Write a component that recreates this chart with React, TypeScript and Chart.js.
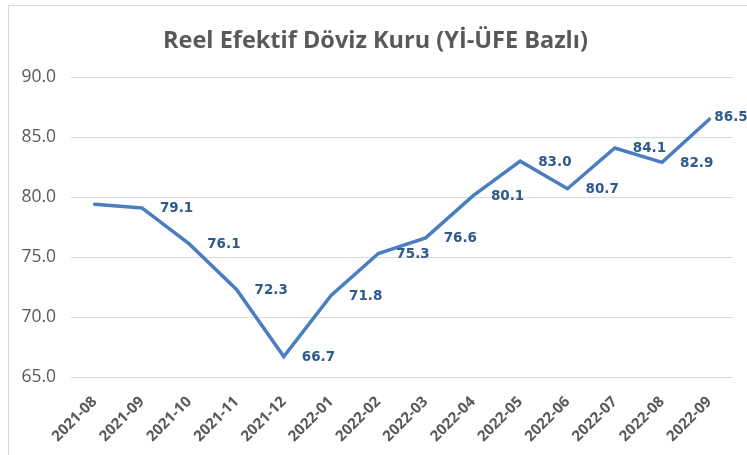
import React, { useEffect, useRef } from "react";
import { Chart, registerables } from "chart.js";

Chart.register(...registerables);

const categories = [
  "2021-08", "2021-09", "2021-10", "2021-11", "2021-12", "2022-01", "2022-02",
  "2022-03", "2022-04", "2022-05", "2022-06", "2022-07", "2022-08", "2022-09",
];
const values = [79.4, 79.1, 76.1, 72.3, 66.7, 71.8, 75.3, 76.6, 80.1, 83.0, 80.7, 84.1, 82.9, 86.5];
const labelShown = [false, true, true, true, true, true, true, true, true, true, true, true, true, true];
const titleText = "Reel Efektif Döviz Kuru (Yİ-ÜFE Bazlı)";
const yMin = 65;
const yMax = 90;
const yStep = 5;

const LINE = "#4A7EC0";
const LABEL = "#2F5A8E";
const GRAY = "#595959";

const valueLabels = {
  id: "valueLabels",
  afterDatasetsDraw(chart: any) {
    const ctx = chart.ctx;
    const meta = chart.getDatasetMeta(0);
    ctx.save();
    ctx.font = "bold 13.5px 'DejaVu Sans'";
    ctx.fillStyle = LABEL;
    ctx.textAlign = "left";
    ctx.textBaseline = "middle";
    meta.data.forEach((pt: any, i: number) => {
      if (!labelShown[i]) return;
      const txt = values[i].toFixed(1);
      const w = ctx.measureText(txt).width;
      let x = pt.x + 18;
      let y = pt.y + 1;
      if (x + w > chart.width) {
        x = pt.x + 5;
        y = pt.y - 2;
      }
      ctx.fillText(txt, x, y);
    });
    ctx.restore();
  },
};

export default function App() {
  const ref = useRef<HTMLCanvasElement>(null);
  useEffect(() => {
    if (!ref.current) return;
    const chart = new Chart(ref.current, {
      type: "line",
      data: {
        labels: categories,
        datasets: [
          {
            data: values,
            borderColor: LINE,
            borderWidth: 3.5,
            borderCapStyle: "round",
            borderJoinStyle: "miter",
            pointRadius: 0,
            tension: 0,
            fill: false,
          },
        ],
      },
      options: {
        animation: false,
        responsive: false,
        layout: { padding: { left: 18, right: 14, top: 0, bottom: 0 } },
        plugins: {
          legend: { display: false },
          tooltip: { enabled: false },
          title: {
            display: true,
            text: titleText,
            color: GRAY,
            font: { family: "'Open Sans'", size: 23.5, weight: "bold" },
            padding: { top: 27, bottom: 22 },
          },
        },
        scales: {
          x: {
            offset: true,
            grid: { display: false, drawTicks: false },
            border: { display: false },
            ticks: {
              color: GRAY,
              font: { family: "'Open Sans'", size: 15, weight: "bold" },
              maxRotation: 45,
              minRotation: 45,
              padding: 16,
              autoSkip: false,
            },
            afterFit: (s: any) => {
              s.height = 78;
            },
          },
          y: {
            min: yMin,
            max: yMax,
            grid: { color: "#D9D9D9", lineWidth: 1, drawTicks: false },
            border: { display: false },
            ticks: {
              stepSize: yStep,
              color: GRAY,
              font: { family: "'Open Sans'", size: 17.5 },
              padding: 15,
              callback: (v: any) => Number(v).toFixed(1),
            },
            afterFit: (s: any) => {
              s.width = 53;
            },
          },
        },
      },
      plugins: [valueLabels],
    });
    return () => chart.destroy();
  }, []);

  return (
    <div style={{ position: "fixed", left: 0, top: 0, width: 747, height: 455, background: "#fff", overflow: "hidden" }}>
      <div
        style={{
          position: "absolute",
          left: 8,
          top: 5,
          width: 800,
          height: 500,
          borderLeft: "1px solid #D9D9D9",
          borderTop: "1px solid #D9D9D9",
        }}
      />
      <canvas ref={ref} width={747} height={455} style={{ position: "absolute", left: 0, top: 0 }} />
    </div>
  );
}
